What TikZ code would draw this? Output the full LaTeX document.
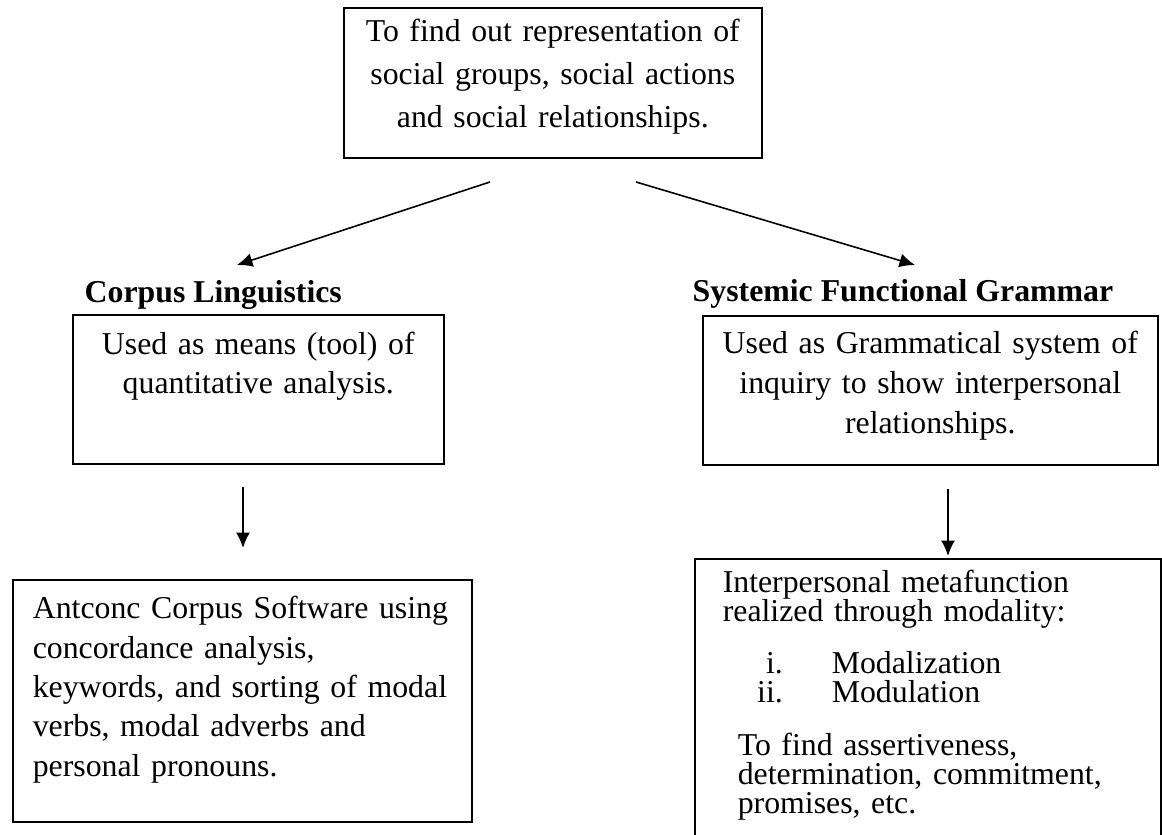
\documentclass[tikz,border=0pt]{standalone}
\usepackage{fontspec}
\setmainfont{Liberation Serif}
\usetikzlibrary{positioning}
\usetikzlibrary{arrows.meta}
\tikzset{
    mybox/.style = {rectangle, draw=black, line width=0.45pt, inner sep=0pt, anchor=north west, align=center},
    myboxl/.style = {mybox, align=left},
    mylabel/.style = {inner sep=0pt, anchor=base west, font=\bfseries},
    edgen/.style = {-{Latex[length=4.4pt,width=4pt]}, line width=0.45pt},
    every picture/.style={font issue=\fontsize{9.05}{11.2}\selectfont},
    font issue/.style={execute at begin picture={#1}
  }
}

\begin{document}
\begin{tikzpicture}
\useasboundingbox (0,0) rectangle (11.62,-8.35);
%
\node[mybox, text width=4.18cm, text height=0.34cm, text depth=1.16cm, font=\fontsize{9.05}{12.2}\selectfont] at (3.43,-0.07) (topbox) {To find out representation of\\ social groups, social actions\\ and social relationships.};
\node[mylabel] at (0.84,-3.03) (cllabel) {Corpus Linguistics};
\node[mylabel] at (6.92,-3.02) (sfglabel) {Systemic Functional Grammar};
\node[mybox, text width=3.71cm, text height=0.40cm, text depth=1.09cm, font=\fontsize{9.05}{11.1}\selectfont] at (0.72,-3.14) (cltool) {Used as means (tool) of\\ quantitative analysis.};
\node[mybox, text width=4.55cm, text height=0.38cm, text depth=1.11cm, font=\fontsize{9.05}{11.4}\selectfont] at (7.02,-3.15) (sfgtool) {Used as Grammatical system of\\ inquiry to show interpersonal\\ relationships.};
\node[myboxl, inner xsep=0.20cm, text width=4.19cm, text height=0.39cm, text depth=2.03cm, font=\fontsize{9.05}{11.2}\selectfont] at (0.12,-5.79) (antconc) {Antconc Corpus Software using\\ concordance analysis,\\ keywords, and sorting of modal\\ verbs, modal adverbs and\\ personal pronouns.};
\node[myboxl, inner xsep=0.28cm, text width=4.10cm, text height=0.34cm, text depth=2.61cm, font={\fontsize{9.05}{8.25}\selectfont\lineskiplimit=-5pt}] at (6.94,-5.58) (modality) {Interpersonal metafunction\\
realized through modality:\\[0.23cm]
\makebox[0.60cm][r]{i.}\hspace*{0.49cm}Modalization\\
\makebox[0.60cm][r]{ii.}\hspace*{0.49cm}Modulation\\[0.24cm]
\hspace*{0.15cm}To find assertiveness,\\
\hspace*{0.15cm}determination, commitment,\\
\hspace*{0.15cm}promises, etc.};
%
\coordinate (tl) at (4.90,-1.82);
\coordinate (clin) at (2.37,-2.65);
\coordinate (tr) at (6.36,-1.82);
\coordinate (sfgin) at (9.15,-2.65);
\coordinate (clout) at (2.43,-4.87);
\coordinate (antin) at (2.43,-5.48);
\coordinate (sfgout) at (9.48,-4.89);
\coordinate (modin) at (9.48,-5.56);
%
\draw[edgen] (tl) -- (clin);
\draw[edgen] (tr) -- (sfgin);
\draw[edgen] (clout) -- (antin);
\draw[edgen] (sfgout) -- (modin);
\end{tikzpicture}
\end{document}
